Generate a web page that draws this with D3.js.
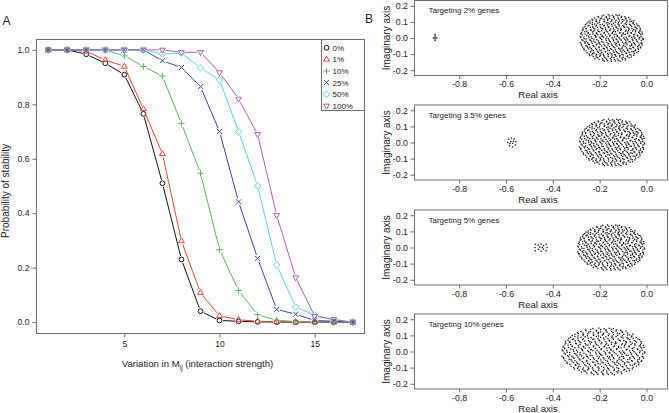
<!DOCTYPE html>
<html><head><meta charset="utf-8">
<script src="https://cdn.jsdelivr.net/npm/d3@7"></script>
<style>body{margin:0;background:#fff}svg{display:block;font-family:"Liberation Sans",Arial,Helvetica,sans-serif}</style>
</head><body>
<svg id="c" width="669" height="413"></svg>
<script>
// ---------- Panel A data ----------
const xValues = [1,2,3,4,5,6,7,8,9,10,11,12,13,14,15,16,17];
const seriesNames = ["0%","1%","10%","25%","50%","100%"];
const series0 = [1,1,0.984,0.951,0.909,0.765,0.51,0.23,0.04,0.006,0.003,0.001,0,0,0,0,0];
const series1 = [1,1,0.995,0.963,0.939,0.783,0.618,0.298,0.108,0.023,0.009,0.003,0.001,0,0,0,0];
const series10 = [1,1,1,1,0.978,0.939,0.904,0.73,0.547,0.266,0.116,0.027,0.007,0.002,0.001,0,0];
const series25 = [1,1,1,1,1,1,0.96,0.935,0.865,0.70,0.442,0.234,0.047,0.029,0.006,0.003,0];
const series50 = [1,1,1,1,1,1,0.985,0.988,0.934,0.89,0.70,0.50,0.21,0.055,0.026,0.008,0];
const series100 = [1,1,1,1,1,1,1,0.991,0.991,0.917,0.82,0.69,0.393,0.164,0.022,0.01,0];
const seriesColors = ["#111111","#e8403a","#5cb25c","#34479a","#5ccfde","#a863ad"];
const seriesShapes = ["circle","triUp","plus","cross","diamond","triDown"];
const aXTicks = [5,10,15];
const aYTicks = [0,0.2,0.4,0.6,0.8,1.0];

// ---------- Panel B data ----------
const panelLabels = ["Targeting 2% genes","Targeting 3.5% genes","Targeting 5% genes","Targeting 10% genes"];
const cloudCenterX = [-0.148,-0.146,-0.150,-0.183];
const cloudRadiusX = [0.139,0.144,0.148,0.183];
const cloudRadiusY = [0.150,0.150,0.145,0.150];
const bXTicks = [-0.8,-0.6,-0.4,-0.2,0.0];
const bYTicks = [-0.2,-0.1,0.0,0.1,0.2];
// unit-disk eigenvalue cloud (shape shared by the four panels)
const cloudUnitA = [
[-0.95,0.02],[-0.85,-0.03],[-0.70,0.01],[-0.61,-0.02],[-0.49,0.03],[-0.35,-0.01],[-0.25,0.04],[-0.11,-0.02],[0.01,0.01],[0.13,-0.04],[0.22,0.02],[0.37,0],[0.47,-0.03],[0.61,0.03],[0.71,-0.01],[0.85,0.02],[0.95,-0.02],
[-0.91,0.13],[-0.77,0.10],[-0.67,0.15],[-0.52,0.11],[-0.43,0.14],[-0.29,0.09],[-0.19,0.13],[-0.05,0.11],[0.07,0.14],[0.17,0.10],[0.31,0.12],[0.41,0.15],[0.55,0.09],[0.67,0.13],[0.79,0.11],[0.89,0.14],
[-0.89,-0.11],[-0.79,-0.14],[-0.65,-0.10],[-0.55,-0.13],[-0.41,-0.12],[-0.31,-0.15],[-0.17,-0.10],[-0.07,-0.13],[0.05,-0.11],[0.19,-0.14],[0.29,-0.09],[0.43,-0.12],[0.53,-0.15],[0.65,-0.11],[0.77,-0.13],[0.91,-0.10],
[-0.93,0.23],[-0.83,0.26],[-0.73,0.22],[-0.59,0.25],[-0.47,0.21],[-0.37,0.26],[-0.23,0.23],[-0.13,0.25],[0.02,0.22],[0.11,0.26],[0.25,0.23],[0.35,0.21],[0.49,0.25],[0.59,0.22],[0.73,0.26],[0.83,0.23],[0.93,0.25],
[-0.94,-0.25],[-0.82,-0.22],[-0.71,-0.26],[-0.60,-0.23],[-0.46,-0.25],[-0.38,-0.21],[-0.24,-0.26],[-0.10,-0.23],[-0.01,-0.25],[0.14,-0.22],[0.23,-0.26],[0.37,-0.24],[0.46,-0.21],[0.61,-0.25],[0.70,-0.23],[0.84,-0.26],[0.92,-0.22],
[-0.88,0.35],[-0.79,0.38],[-0.65,0.34],[-0.53,0.37],[-0.43,0.33],[-0.28,0.38],[-0.19,0.35],[-0.04,0.37],[0.07,0.34],[0.19,0.38],[0.29,0.35],[0.44,0.33],[0.53,0.37],[0.67,0.35],[0.77,0.39],[0.88,0.34],
[-0.90,-0.37],[-0.76,-0.34],[-0.67,-0.38],[-0.55,-0.35],[-0.40,-0.37],[-0.31,-0.33],[-0.17,-0.38],[-0.07,-0.35],[0.05,-0.37],[0.16,-0.34],[0.32,-0.38],[0.41,-0.35],[0.56,-0.33],[0.65,-0.38],[0.79,-0.35],[0.89,-0.37],
[-0.83,0.47],[-0.73,0.50],[-0.59,0.46],[-0.49,0.49],[-0.35,0.45],[-0.25,0.50],[-0.11,0.47],[0.01,0.49],[0.13,0.46],[0.23,0.50],[0.37,0.47],[0.47,0.45],[0.61,0.49],[0.71,0.46],[0.84,0.49],
[-0.85,-0.49],[-0.71,-0.46],[-0.61,-0.50],[-0.47,-0.47],[-0.37,-0.49],[-0.23,-0.45],[-0.13,-0.50],[-0.01,-0.47],[0.11,-0.49],[0.25,-0.46],[0.35,-0.50],[0.49,-0.47],[0.59,-0.45],[0.73,-0.49],[0.82,-0.47],
[-0.77,0.59],[-0.67,0.62],[-0.53,0.58],[-0.43,0.61],[-0.29,0.57],[-0.17,0.62],[-0.07,0.59],[0.05,0.61],[0.19,0.58],[0.29,0.62],[0.41,0.59],[0.55,0.57],[0.65,0.61],[0.76,0.58],
[-0.76,-0.61],[-0.65,-0.58],[-0.55,-0.62],[-0.41,-0.59],[-0.31,-0.61],[-0.19,-0.57],[-0.05,-0.62],[0.07,-0.59],[0.17,-0.61],[0.31,-0.58],[0.43,-0.62],[0.53,-0.59],[0.67,-0.57],[0.77,-0.61],
[-0.67,0.71],[-0.59,0.74],[-0.47,0.70],[-0.37,0.73],[-0.23,0.69],[-0.13,0.74],[-0.01,0.71],[0.13,0.73],[0.23,0.70],[0.37,0.74],[0.47,0.71],[0.61,0.69],[0.68,0.72],
[-0.68,-0.73],[-0.61,-0.70],[-0.49,-0.74],[-0.35,-0.71],[-0.25,-0.73],[-0.11,-0.69],[0.01,-0.74],[0.11,-0.71],[0.25,-0.73],[0.35,-0.70],[0.49,-0.74],[0.59,-0.71],[0.67,-0.72],
[-0.53,0.83],[-0.41,0.86],[-0.31,0.82],[-0.17,0.85],[-0.07,0.81],[0.05,0.86],[0.19,0.83],[0.29,0.85],[0.43,0.82],[0.52,0.85],
[-0.52,-0.85],[-0.43,-0.82],[-0.29,-0.86],[-0.19,-0.83],[-0.05,-0.85],[0.07,-0.81],[0.17,-0.86],[0.31,-0.83],[0.41,-0.85],[0.53,-0.82],
[-0.25,0.95],[-0.11,0.97],[0.01,0.94],[0.13,0.96],[0.23,0.95],
[-0.23,-0.96],[-0.13,-0.94],[-0.01,-0.97],[0.11,-0.95],[0.25,-0.96]
];
const cloudUnitB = [
[-0.97,0.06],[-0.86,0.04],[-0.71,0.08],[-0.63,0.05],[-0.50,0.07],[-0.37,0.03],[-0.30,0.07],[-0.15,0.05],[-0.06,0.08],[0.08,0.04],[0.17,0.06],[0.30,0.08],[0.44,0.03],[0.53,0.07],[0.68,0.05],[0.80,0.08],[0.90,0.05],
[-0.92,-0.07],[-0.79,-0.04],[-0.68,-0.08],[-0.55,-0.05],[-0.46,-0.07],[-0.31,-0.06],[-0.19,-0.03],[-0.09,-0.08],[0.04,-0.05],[0.15,-0.07],[0.25,-0.04],[0.40,-0.06],[0.49,-0.08],[0.63,-0.05],[0.75,-0.07],[0.84,-0.04],[0.96,-0.06],
[-0.95,0.18],[-0.82,0.16],[-0.73,0.20],[-0.58,0.17],[-0.47,0.19],[-0.34,0.15],[-0.24,0.20],[-0.10,0.17],[0.01,0.19],[0.13,0.16],[0.24,0.20],[0.35,0.17],[0.48,0.18],[0.60,0.20],[0.71,0.16],[0.86,0.19],[0.94,0.17],
[-0.97,-0.19],[-0.84,-0.17],[-0.74,-0.20],[-0.62,-0.16],[-0.51,-0.18],[-0.40,-0.20],[-0.27,-0.17],[-0.15,-0.19],[-0.04,-0.16],[0.09,-0.20],[0.20,-0.18],[0.33,-0.17],[0.42,-0.20],[0.57,-0.16],[0.67,-0.19],[0.80,-0.17],[0.90,-0.20],
[-0.90,0.31],[-0.77,0.28],[-0.64,0.32],[-0.55,0.29],[-0.41,0.27],[-0.31,0.31],[-0.17,0.29],[-0.06,0.32],[0.05,0.28],[0.18,0.30],[0.27,0.32],[0.42,0.28],[0.51,0.31],[0.64,0.29],[0.73,0.32],[0.86,0.28],
[-0.93,-0.29],[-0.80,-0.32],[-0.69,-0.28],[-0.57,-0.31],[-0.48,-0.29],[-0.36,-0.27],[-0.22,-0.32],[-0.12,-0.29],[0.01,-0.31],[0.12,-0.28],[0.24,-0.30],[0.36,-0.32],[0.47,-0.28],[0.61,-0.31],[0.72,-0.29],[0.83,-0.32],[0.93,-0.28],
[-0.89,0.42],[-0.79,0.40],[-0.66,0.44],[-0.56,0.41],[-0.44,0.43],[-0.32,0.40],[-0.20,0.42],[-0.09,0.44],[0.05,0.41],[0.14,0.43],[0.28,0.40],[0.39,0.44],[0.52,0.42],[0.62,0.40],[0.74,0.43],[0.87,0.41],
[-0.86,-0.43],[-0.74,-0.40],[-0.63,-0.44],[-0.50,-0.42],[-0.39,-0.40],[-0.26,-0.43],[-0.14,-0.41],[-0.04,-0.44],[0.09,-0.40],[0.21,-0.42],[0.31,-0.44],[0.45,-0.41],[0.55,-0.43],[0.67,-0.40],[0.80,-0.42],[0.88,-0.41],
[-0.81,0.55],[-0.70,0.52],[-0.60,0.56],[-0.47,0.53],[-0.36,0.55],[-0.23,0.52],[-0.13,0.54],[0.00,0.56],[0.10,0.53],[0.22,0.55],[0.34,0.52],[0.45,0.56],[0.57,0.53],[0.69,0.55],[0.80,0.52],
[-0.79,-0.53],[-0.66,-0.56],[-0.57,-0.52],[-0.44,-0.55],[-0.33,-0.53],[-0.20,-0.56],[-0.08,-0.52],[0.04,-0.54],[0.14,-0.56],[0.27,-0.53],[0.39,-0.55],[0.49,-0.52],[0.62,-0.56],[0.72,-0.53],[0.82,-0.55],
[-0.73,0.66],[-0.60,0.64],[-0.48,0.68],[-0.38,0.65],[-0.24,0.67],[-0.12,0.64],[-0.03,0.68],[0.11,0.66],[0.20,0.64],[0.33,0.67],[0.44,0.65],[0.56,0.68],[0.66,0.64],
[-0.70,-0.67],[-0.59,-0.64],[-0.47,-0.68],[-0.36,-0.65],[-0.26,-0.67],[-0.13,-0.64],[0.00,-0.66],[0.09,-0.68],[0.22,-0.65],[0.31,-0.67],[0.45,-0.64],[0.55,-0.68],[0.69,-0.65],
[-0.61,0.78],[-0.48,0.76],[-0.35,0.80],[-0.24,0.77],[-0.12,0.79],[0.00,0.76],[0.08,0.80],[0.22,0.78],[0.32,0.76],[0.44,0.79],[0.56,0.77],
[-0.57,-0.77],[-0.46,-0.80],[-0.37,-0.76],[-0.23,-0.79],[-0.11,-0.77],[-0.01,-0.80],[0.13,-0.76],[0.24,-0.78],[0.35,-0.80],[0.47,-0.77],[0.60,-0.79],
[-0.42,0.89],[-0.30,0.91],[-0.17,0.88],[-0.07,0.91],[0.06,0.89],[0.18,0.92],[0.30,0.89],[0.40,0.88],
[-0.39,-0.89],[-0.27,-0.91],[-0.16,-0.88],[-0.02,-0.91],[0.08,-0.89],[0.20,-0.92],[0.33,-0.89],[0.42,-0.91]
];
// isolated eigenvalues (real, imaginary) per panel
const outliers2 = [[-0.903,0.022],[-0.903,0.012],[-0.903,0.003],[-0.903,-0.006],[-0.903,-0.015],[-0.896,0.0],[-0.910,0.0]];
const outliers35 = [[-0.593,0.0],[-0.588,0.02],[-0.577,0.028],[-0.565,0.022],[-0.558,0.005],[-0.560,-0.015],[-0.572,-0.027],[-0.585,-0.02],[-0.580,0.005],[-0.572,-0.005],[-0.583,-0.006],[-0.568,0.008]];
const outliers5 = [[-0.475,0.02],[-0.476,0.0],[-0.475,-0.02],[-0.462,0.015],[-0.462,-0.012],[-0.45,0.022],[-0.45,-0.022],[-0.44,0.012],[-0.44,-0.01],[-0.428,0.02],[-0.424,0.0],[-0.428,-0.02],[-0.456,0.003],[-0.445,0.0]];
const outliers10 = [];
const panelOutliers = [outliers2,outliers35,outliers5,outliers10];

// ---------- drawing ----------
const svg = d3.select("#c");
const boxCol = "#6e6e6e", txtCol = "#222";

// Panel A
const A = {l:36, r:365, t:39, b:333};
const xA = d3.scaleLinear().domain([0.36,17.64]).range([A.l,A.r]);
const yA = d3.scaleLinear().domain([-0.04,1.04]).range([A.b,A.t]);
const gA = svg.append("g");

gA.append("rect").attr("x",A.l+0.5).attr("y",A.t+0.5).attr("width",A.r-A.l-1).attr("height",A.b-A.t)
  .attr("fill","none").attr("stroke",boxCol).attr("stroke-width",1);

const axA = gA.append("g").attr("transform",`translate(0,${A.b+0.5})`)
  .call(d3.axisBottom(xA).tickValues(aXTicks).tickSize(4).tickPadding(3).tickFormat(d3.format("d")));
const ayA = gA.append("g").attr("transform",`translate(${A.l+0.5},0)`)
  .call(d3.axisLeft(yA).tickValues(aYTicks).tickSize(4).tickPadding(3).tickFormat(d3.format(".1f")));
[axA,ayA].forEach(a=>{
  a.select(".domain").remove();
  a.selectAll("line").attr("stroke",boxCol);
  a.selectAll("text").attr("fill",txtCol).style("font-size","8.6px").style("font-family","Liberation Sans, Arial, sans-serif");
});

const shapePath = {
  triUp:"M0,-3.3L2.9,1.7L-2.9,1.7Z",
  triDown:"M0,3.3L2.9,-1.7L-2.9,-1.7Z",
  plus:"M-3.2,0H3.2M0,-3.2V3.2",
  cross:"M-2.5,-2.5L2.5,2.5M-2.5,2.5L2.5,-2.5",
  diamond:"M0,-3.3L3.3,0L0,3.3L-3.3,0Z"
};
function drawShape(g, shape, x, y, col){
  if(shape==="circle"){
    g.append("circle").attr("cx",x).attr("cy",y).attr("r",2.4).attr("fill","none").attr("stroke",col).attr("stroke-width",1);
  } else {
    g.append("path").attr("transform",`translate(${x},${y})`).attr("d",shapePath[shape]).attr("fill","none").attr("stroke",col).attr("stroke-width",1);
  }
}

const allSeries = [series0,series1,series10,series25,series50,series100];
const gap = 3.6;
allSeries.forEach((vals,si)=>{
  const col = seriesColors[si];
  const gs = gA.append("g");
  const pts = vals.map((v,i)=>[xA(xValues[i]), yA(v)]);
  for(let i=0;i<pts.length-1;i++){
    const [x1,y1]=pts[i],[x2,y2]=pts[i+1];
    const d=Math.hypot(x2-x1,y2-y1);
    if(d>2*gap+0.5){
      const ux=(x2-x1)/d, uy=(y2-y1)/d;
      gs.append("line").attr("x1",x1+ux*gap).attr("y1",y1+uy*gap).attr("x2",x2-ux*gap).attr("y2",y2-uy*gap)
        .attr("stroke",col).attr("stroke-width",1);
    }
  }
  pts.forEach(p=>drawShape(gs,seriesShapes[si],p[0],p[1],col));
});

// legend
const L = {l:321, t:39, r:365, b:110};
gA.append("rect").attr("x",L.l+0.5).attr("y",L.t+0.5).attr("width",L.r-L.l-1).attr("height",L.b-L.t)
  .attr("fill","#fff").attr("stroke",boxCol).attr("stroke-width",1);
seriesNames.forEach((n,i)=>{
  const yy = 47.8 + i*11.6;
  drawShape(gA, seriesShapes[i], 326.5, yy, seriesColors[i]);
  gA.append("text").attr("x",332.5).attr("y",yy+2.9).text(n).attr("fill",txtCol).style("font-size","8px");
});

// axis titles A
const xt = gA.append("text").attr("x",197.5).attr("y",367).attr("text-anchor","middle").attr("fill",txtCol).style("font-size","9.6px");
xt.append("tspan").text("Variation in M");
xt.append("tspan").text("ij").attr("dy",2.5).style("font-size","6.5px");
xt.append("tspan").text(" (interaction strength)").attr("dy",-2.5);
gA.append("text").attr("transform","translate(8.6,191) rotate(-90)").attr("text-anchor","middle")
  .attr("fill",txtCol).style("font-size","10px").text("Probability of stability");
svg.append("text").attr("x",2.5).attr("y",25.3).attr("fill",txtCol).style("font-size","12px").text("A");
svg.append("text").attr("x",369).attr("y",23.3).attr("text-anchor","middle").attr("fill",txtCol).style("font-size","12px").text("B");

// Panel B
const B = {l:414, r:668};
const panelTops = [0,104.5,209.5,313.5];
const bH = 76;
const xB = d3.scaleLinear().domain([-0.993,0.092]).range([B.l,B.r]);
const cloudUnit = cloudUnitA.concat(cloudUnitB);
panelTops.forEach((top,pi)=>{
  const g = svg.append("g");
  const yB = d3.scaleLinear().domain([-0.236,0.236]).range([top+bH, top]);
  const clipId = "clip"+pi;
  g.append("clipPath").attr("id",clipId).append("rect").attr("x",B.l).attr("y",top).attr("width",B.r-B.l).attr("height",bH);
  g.append("rect").attr("x",B.l+0.5).attr("y",top+0.5).attr("width",B.r-B.l-1).attr("height",bH-1)
    .attr("fill","none").attr("stroke",boxCol).attr("stroke-width",1);
  const ax = g.append("g").attr("transform",`translate(0,${top+bH-0.5})`)
    .call(d3.axisBottom(xB).tickValues(bXTicks).tickSize(3.5).tickPadding(2).tickFormat(d=>d3.format(".1f")(d).replace("−","-")));
  const ay = g.append("g").attr("transform",`translate(${B.l+0.5},0)`)
    .call(d3.axisLeft(yB).tickValues(bYTicks).tickSize(4).tickPadding(2.5).tickFormat(d=>d3.format(".1f")(d).replace("−","-")));
  [ax,ay].forEach(a=>{
    a.select(".domain").remove();
    a.selectAll("line").attr("stroke",boxCol);
    a.selectAll("text").attr("fill",txtCol).style("font-size","8.8px").style("font-family","Liberation Sans, Arial, sans-serif");
  });
  g.append("text").attr("x",538).attr("y",top+bH+22).attr("text-anchor","middle").attr("fill",txtCol).style("font-size","9.6px").text("Real axis");
  g.append("text").attr("transform",`translate(390.3,${top+38}) rotate(-90)`).attr("text-anchor","middle")
    .attr("fill",txtCol).style("font-size","10px").text("Imaginary axis");
  g.append("text").attr("x",428.5).attr("y",top+13).attr("fill",txtCol).style("font-size","8px").text(panelLabels[pi]);
  const gd = g.append("g").attr("clip-path",`url(#${clipId})`);
  const cloud = cloudUnit.map(p=>[cloudCenterX[pi]+p[0]*cloudRadiusX[pi], p[1]*cloudRadiusY[pi]]);
  gd.selectAll("rect.d").data(cloud.concat(panelOutliers[pi])).enter().append("rect")
    .attr("x",d=>xB(d[0])-0.65).attr("y",d=>yB(d[1])-0.65).attr("width",1.3).attr("height",1.3).attr("fill","#111");
});
</script>
</body></html>
